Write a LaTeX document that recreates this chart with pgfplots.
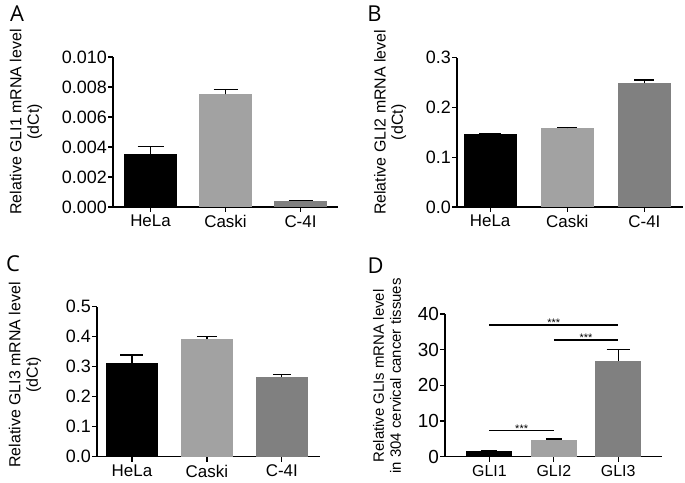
\documentclass[border=0pt]{standalone}
\usepackage{pgfplots}
\pgfplotsset{compat=1.18}
\usepackage{fontspec}
\setmainfont{Liberation Sans}
\newfontfamily\letterfont{Open Sans}
\definecolor{gLight}{HTML}{A2A2A2}
\definecolor{gDark}{HTML}{808080}
\pgfplotsset{
  gp/.style={
    scale only axis,
    axis x line*=bottom, axis y line*=left,
    axis line style={line width=1.3bp,-},
    every tick/.style={black, line width=1.3bp},
    tick align=outside,
    major tick length=5bp,
    xtick={0,1,2},
    /pgf/number format/assume math mode=true,
    yticklabel style={font=\fontsize{18}{20}\selectfont, inner xsep=1bp},
    xticklabel style={font=\fontsize{17}{19}\selectfont, inner ysep=3bp},
    ylabel style={align=center, font=\fontsize{16}{17.5}\selectfont, anchor=center},
    scaled y ticks=false,
    clip=false,
  },
  gbar/.style 2 args={ybar, bar width=#1, draw=none, bar shift=0pt,
    error bars/y dir=plus, error bars/y explicit,
    error bars/error mark=|,
    error bars/error bar style={black, line width=1.3bp},
    error bars/error mark options={black, line width=1.3bp, mark size=#2}},
}
\begin{document}
\begin{tikzpicture}[x=1bp,y=1bp]
\useasboundingbox (0,0) rectangle (685,483);
% Panel A
\begin{axis}[gp, at={(113bp,276bp)}, anchor=south west,
  width=225bp, height=150bp,
  xmin=-0.5, xmax=2.5, ymin=0, ymax=0.010,
  ytick={0,0.002,0.004,0.006,0.008,0.010},
  yticklabel style={/pgf/number format/.cd, fixed, fixed zerofill, precision=3},
  xticklabels={HeLa,Caski,C-4I},
  ylabel={Relative GLI1 mRNA level\\(dCt)},
  ylabel style={at={(axis description cs:-0.387,0.567)}}]
\addplot[gbar={53bp}{13bp}, fill=black] coordinates {(0,0.0035) +- (0,0.00055)};
\addplot[gbar={53bp}{12bp}, fill=gLight] coordinates {(1,0.0075) +- (0,0.00033)};
\addplot[gbar={53bp}{12bp}, fill=gDark] coordinates {(2,0.0004) +- (0,0.00005)};
\end{axis}
% Panel B
\begin{axis}[gp, at={(457bp,276bp)}, anchor=south west,
  width=226bp, height=149.3bp,
  xmin=-0.43, xmax=2.5, ymin=0, ymax=0.3,
  ytick={0,0.1,0.2,0.3},
  yticklabel style={/pgf/number format/.cd, fixed, fixed zerofill, precision=1},
  xticklabels={HeLa,Caski,C-4I},
  ylabel={Relative GLI2 mRNA level\\(dCt)},
  ylabel style={at={(axis description cs:-0.296,0.567)}}]
\addplot[gbar={53bp}{11bp}, fill=black] coordinates {(0,0.146) +- (0,0.002)};
\addplot[gbar={53bp}{10bp}, fill=gLight] coordinates {(1,0.158) +- (0,0.002)};
\addplot[gbar={53bp}{10bp}, fill=gDark] coordinates {(2,0.249) +- (0,0.006)};
\end{axis}
% Panel C
\begin{axis}[gp, at={(97bp,26.3bp)}, anchor=south west,
  width=223bp, height=150bp,
  xmin=-0.467, xmax=2.51, ymin=0, ymax=0.5,
  ytick={0,0.1,0.2,0.3,0.4,0.5},
  yticklabel style={/pgf/number format/.cd, fixed, fixed zerofill, precision=1},
  xticklabels={HeLa,Caski,C-4I},
  ylabel={Relative GLI3 mRNA level\\(dCt)},
  ylabel style={at={(axis description cs:-0.323,0.545)}}]
\addplot[gbar={52bp}{11.5bp}, fill=black] coordinates {(0,0.313) +- (0,0.026)};
\addplot[gbar={52bp}{10bp}, fill=gLight] coordinates {(1,0.392) +- (0,0.008)};
\addplot[gbar={52bp}{9bp}, fill=gDark] coordinates {(2,0.265) +- (0,0.008)};
\end{axis}
% Panel D
\begin{axis}[gp, at={(445bp,26.3bp)}, anchor=south west,
  width=217bp, height=142.7bp,
  xmin=-0.69, xmax=2.68, ymin=0, ymax=40,
  ytick={0,10,20,30,40},
  yticklabel style={font=\fontsize{19}{21}\selectfont},
  xticklabels={GLI1,GLI2,GLI3},
  xticklabel style={font=\fontsize{16}{18}\selectfont},
  ylabel={Relative GLIs mRNA level\\in 304 cervical cancer tissues},
  ylabel style={font=\fontsize{15}{17}\selectfont, at={(axis description cs:-0.267,0.566)}}]
\addplot[gbar={46bp}{8bp}, fill=black] coordinates {(0,1.7) +- (0,0.1)};
\addplot[gbar={46bp}{8bp}, fill=gLight] coordinates {(1,4.7) +- (0,0.3)};
\addplot[gbar={46bp}{11.5bp}, fill=gDark] coordinates {(2,26.9) +- (0,3.2)};
\addplot[black, line width=1.5bp, no marks] coordinates {(0,36.85) (2,36.85)};
\addplot[black, line width=1.5bp, no marks] coordinates {(1,32.7) (2,32.7)};
\addplot[black, line width=1.5bp, no marks] coordinates {(0,7.3) (1,7.3)};
\node[font=\fontsize{11}{11}\selectfont, anchor=base, inner sep=0pt, yshift=-1.5bp] at (axis cs:1,36.85) {***};
\node[font=\fontsize{11}{11}\selectfont, anchor=base, inner sep=0pt, yshift=-1.5bp] at (axis cs:1.5,32.7) {***};
\node[font=\fontsize{11}{11}\selectfont, anchor=base, inner sep=0pt, yshift=-1.5bp] at (axis cs:0.5,7.3) {***};
\end{axis}
% Panel letters
\node[font=\letterfont\fontsize{22}{22}\selectfont, inner sep=0pt] at (17,469) {A};
\node[font=\letterfont\fontsize{22}{22}\selectfont, inner sep=0pt] at (374.5,469) {B};
\node[font=\letterfont\fontsize{22}{22}\selectfont, inner sep=0pt] at (13,219.5) {C};
\node[font=\letterfont\fontsize{22}{22}\selectfont, inner sep=0pt] at (375.5,217.5) {D};
\end{tikzpicture}
\end{document}
